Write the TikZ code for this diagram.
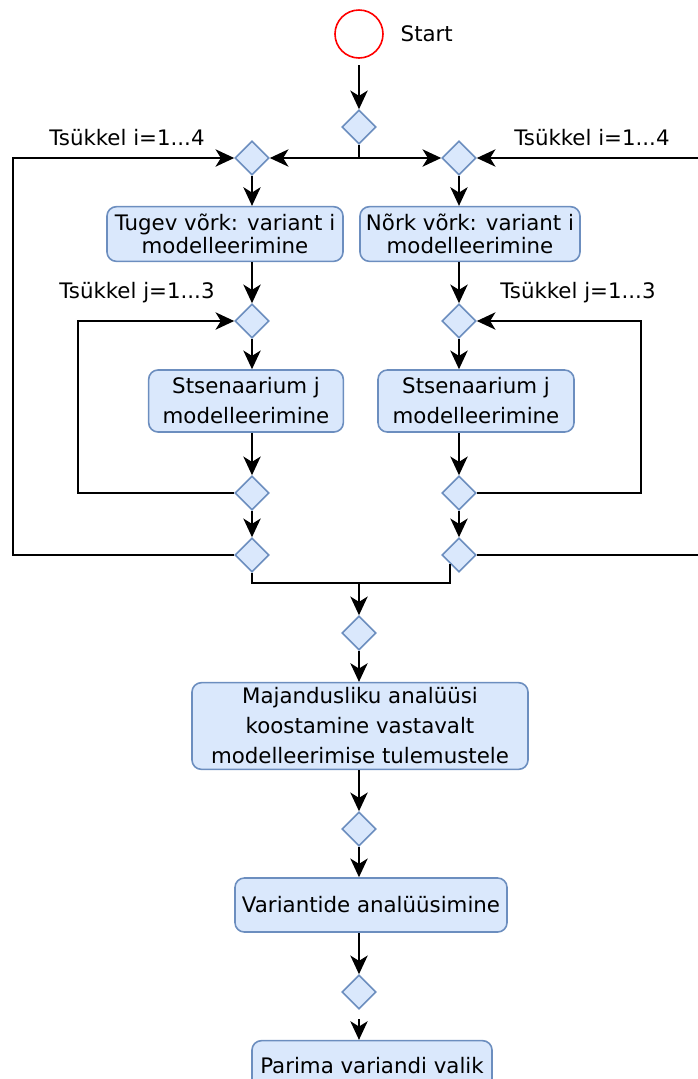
\documentclass[tikz,border=0pt]{standalone}
\usepackage{fontspec}
\setmainfont{DejaVu Sans}
\usetikzlibrary{shapes.geometric,arrows.meta}

\definecolor{actfill}{HTML}{DAE8FC}
\definecolor{actline}{HTML}{6C8EBF}

\tikzset{
    act/.style={draw=actline, fill=actfill, line width=1.2pt, rounded corners=7pt,
        align=center, inner sep=2pt, font=\fontsize{16}{22.5}\selectfont},
    dia/.style={diamond, draw=actline, fill=actfill, line width=1.2pt,
        minimum width=25.5pt, minimum height=25.5pt, inner sep=0pt},
    flow/.style={line width=1.3pt, draw=black},
    arr/.style={flow, -{Stealth[length=14pt, width=13pt, inset=4pt]}},
    loop/.style={font=\fontsize{16}{18}\selectfont}
}

\begin{document}
\begin{tikzpicture}[x=0.75pt, y=-0.75pt]
    \useasboundingbox (0,0) rectangle (697,1079);

    % start and fork
    \node[circle, draw=red, line width=1.2pt, minimum size=36pt, inner sep=0pt] (start) at (359,34) {};
    \node[loop, anchor=west] (startlabel) at (396,34) {Start};
    \node[dia] (d0) at (359,127) {};
    \node[dia] (li1) at (252,158) {};
    \node[dia] (ri1) at (459,158) {};
    \coordinate (fork) at (359,158);

    % outer loop labels
    \node[loop] (ilabelL) at (127,138) {Tsükkel i=1...4};
    \node[loop] (ilabelR) at (592,138) {Tsükkel i=1...4};

    % network variants
    \node[act, minimum width=177pt, minimum height=41pt, font=\fontsize{16}{17.5}\selectfont] (tugev) at (225,234) {Tugev võrk: variant i\\modelleerimine};
    \node[act, minimum width=165pt, minimum height=41pt, font=\fontsize{16}{17.5}\selectfont] (nork) at (470,234) {Nõrk võrk: variant i\\modelleerimine};

    % inner loop
    \node[loop] (jlabelL) at (137,293) {Tsükkel j=1...3};
    \node[loop] (jlabelR) at (578,293) {Tsükkel j=1...3};
    \node[dia] (lj1) at (252,321) {};
    \node[dia] (rj1) at (459,321) {};
    \node[act, minimum width=146pt, minimum height=46.5pt] (lsts) at (246,401) {Stsenaarium j\\modelleerimine};
    \node[act, minimum width=147pt, minimum height=46.5pt] (rsts) at (476,401) {Stsenaarium j\\modelleerimine};
    \node[dia] (lj2) at (252,493) {};
    \node[dia] (rj2) at (459,493) {};
    \node[dia] (li2) at (252,555) {};
    \node[dia] (ri2) at (459,555) {};

    % loop corners
    \coordinate (il) at (13,0);
    \coordinate (ir) at (699,0);
    \coordinate (jl) at (78,0);
    \coordinate (jr) at (641,0);
    \coordinate (merge) at (359,583);

    % analysis
    \node[dia] (d1) at (359,633) {};
    \node[act, minimum width=252pt, minimum height=65pt] (maj) at (360,726) {Majandusliku analüüsi\\koostamine vastavalt\\modelleerimise tulemustele};
    \node[dia] (d2) at (359,829) {};
    \node[act, minimum width=204pt, minimum height=40.5pt] (var) at (371,905) {Variantide analüüsimine};
    \node[dia] (d3) at (359,992) {};
    \node[act, minimum width=180pt, minimum height=38pt] (parima) at (372,1066) {Parima variandi valik};

    % connectors
    \draw[arr, shorten <=5pt] (start) -- (d0);
    \draw[flow] (d0) -- (fork);
    \draw[arr] (fork) -- (li1);
    \draw[arr] (fork) -- (ri1);

    \draw[arr] (li1) -- (li1 |- tugev.north);
    \draw[arr] (ri1) -- (ri1 |- nork.north);
    \draw[arr] (li1 |- tugev.south) -- (lj1);
    \draw[arr] (ri1 |- nork.south) -- (rj1);
    \draw[arr] (lj1) -- (lj1 |- lsts.north);
    \draw[arr] (rj1) -- (rj1 |- rsts.north);
    \draw[arr] (lj1 |- lsts.south) -- (lj2);
    \draw[arr] (rj1 |- rsts.south) -- (rj2);
    \draw[arr] (lj2) -- (li2);
    \draw[arr] (rj2) -- (ri2);

    \draw[arr] (lj2) -- (lj2 -| jl) |- (lj1);
    \draw[arr] (rj2) -- (rj2 -| jr) |- (rj1);
    \draw[arr] (li2) -- (li2 -| il) |- (li1);
    \draw[arr] (ri2) -- (ri2 -| ir) |- (ri1);

    \draw[flow] (li2) |- (merge) -| (ri2.south west);
    \draw[arr] (merge) -- (d1);
    \draw[arr] (d1) -- (d1 |- maj.north);
    \draw[arr] (d1 |- maj.south) -- (d2);
    \draw[arr] (d2) -- (d2 |- var.north);
    \draw[arr] (d2 |- var.south) -- (d3);
    \draw[arr, shorten <=7pt] (d3) -- (d3 |- parima.north);
\end{tikzpicture}
\end{document}
